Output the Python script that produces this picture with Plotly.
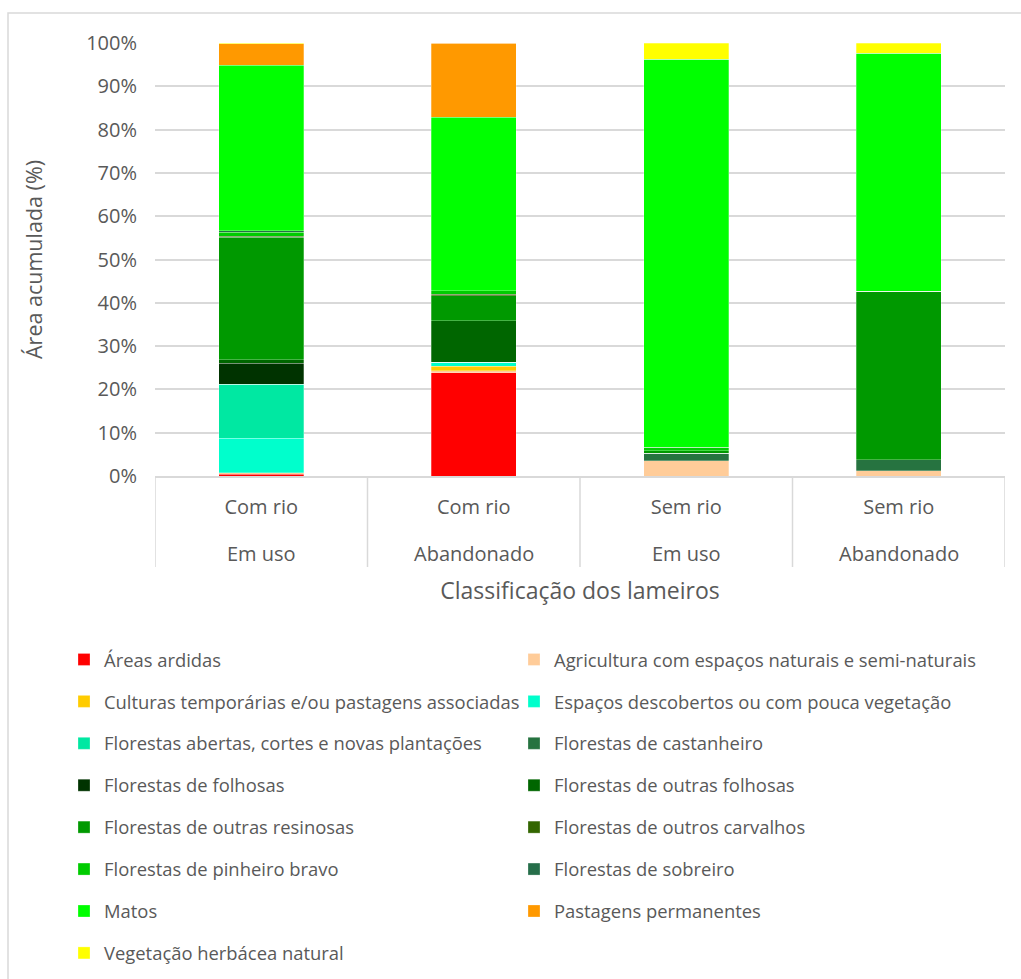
import plotly.graph_objects as go

# Categories (two label levels)
rio = ["Com rio", "Com rio", "Sem rio", "Sem rio"]
estado = ["Em uso", "Abandonado", "Em uso", "Abandonado"]

# Land-cover classes, bottom to top of each stack
classes = [
    "Áreas ardidas",
    "Agricultura com espaços naturais e semi-naturais",
    "Culturas temporárias e/ou pastagens associadas",
    "Espaços descobertos ou com pouca vegetação",
    "Florestas abertas, cortes e novas plantações",
    "Florestas de castanheiro",
    "Florestas de folhosas",
    "Florestas de outras folhosas",
    "Florestas de outras resinosas",
    "Florestas de outros carvalhos",
    "Florestas de pinheiro bravo",
    "Florestas de sobreiro",
    "Matos",
    "Pastagens permanentes",
    "Vegetação herbácea natural",
]

# Share of area (%) per class, one value per category
areas_ardidas = [0.4, 23.8, 0.0, 0.0]
agricultura = [0.4, 0.5, 3.5, 1.2]
culturas_temporarias = [0.0, 1.1, 0.0, 0.0]
espacos_descobertos = [7.9, 0.7, 0.0, 0.0]
florestas_abertas = [12.5, 0.2, 0.0, 0.0]
castanheiro = [0.0, 0.0, 1.7, 2.6]
folhosas = [4.8, 0.0, 0.0, 0.0]
outras_folhosas = [0.9, 9.5, 0.0, 0.0]
outras_resinosas = [28.2, 5.8, 0.6, 38.9]
outros_carvalhos = [0.3, 0.4, 0.0, 0.0]
pinheiro_bravo = [0.9, 0.8, 0.8, 0.0]
sobreiro = [0.3, 0.0, 0.0, 0.0]
matos = [38.3, 40.0, 89.6, 54.9]
pastagens = [4.9, 17.2, 0.0, 0.0]
vegetacao_herbacea = [0.1, 0.0, 3.8, 2.4]

values = [
    areas_ardidas, agricultura, culturas_temporarias, espacos_descobertos,
    florestas_abertas, castanheiro, folhosas, outras_folhosas,
    outras_resinosas, outros_carvalhos, pinheiro_bravo, sobreiro,
    matos, pastagens, vegetacao_herbacea,
]

colors = [
    "#FF0000", "#FFCC99", "#FFCC00", "#00FFCC", "#00E8A2",
    "#267340", "#003300", "#006600", "#009900", "#336600",
    "#00CC00", "#266E4A", "#00FF00", "#FF9900", "#FFFF00",
]

FONT = "Open Sans"
TXT = "#595959"
GRID = "#D9D9D9"

cats = [f"{r} | {e}" for r, e in zip(rio, estado)]

fig = go.Figure()
for i, (name, vals, col) in enumerate(zip(classes, values, colors)):
    fig.add_trace(go.Bar(
        x=cats, y=vals, name=name,
        marker=dict(color=col, line=dict(color="rgba(255,255,255,0.45)", width=0.6)),
        legend="legend" if i % 2 == 0 else "legend2",
        legendgroup=name,
    ))

# Plot-area geometry (pixels) used to place decorations in paper units
W, H = 1021, 979
L, R, T, B = 155, 16, 43, 503
pw, ph = W - L - R, H - T - B


def px_x(x):
    return (x - L) / pw


def px_y(y):
    return (H - B - y) / ph


shapes = []
# Category dividers extending through both label rows
for k in range(len(cats) + 1):
    shapes.append(dict(type="line", xref="x", yref="paper",
                       x0=k - 0.5, x1=k - 0.5, y0=0, y1=px_y(567),
                       line=dict(color=GRID, width=1.5)))
# Chart frame
shapes.append(dict(type="rect", xref="paper", yref="paper",
                   x0=px_x(8), x1=px_x(1040), y0=px_y(1000), y1=px_y(13),
                   line=dict(color=GRID, width=1.5), layer="below"))

annotations = []
for c, e in zip(cats, estado):
    annotations.append(dict(x=c, y=px_y(553), xref="x", yref="paper",
                            text=e, showarrow=False, yanchor="middle",
                            font=dict(family=FONT, size=20, color=TXT)))

legend_common = dict(
    orientation="v", traceorder="grouped", tracegroupgap=15,
    font=dict(family=FONT, size=18.4, color=TXT),
    bgcolor="rgba(0,0,0,0)", yanchor="top", xanchor="left",
    itemclick=False, itemdoubleclick=False,
)

fig.update_layout(
    width=W, height=H,
    margin=dict(l=L, r=R, t=T, b=B, autoexpand=False),
    barmode="stack", bargap=0.6,
    paper_bgcolor="white", plot_bgcolor="white",
    font=dict(family=FONT, color=TXT),
    showlegend=True,
    legend=dict(x=px_x(64), y=px_y(641), **legend_common),
    legend2=dict(x=px_x(514), y=px_y(641), **legend_common),
    shapes=shapes,
    annotations=annotations,
    xaxis=dict(
        type="category", range=[-0.5, len(cats) - 0.5],
        tickvals=cats, ticktext=rio, ticks="", ticklabelstandoff=12,
        tickfont=dict(family=FONT, size=20, color=TXT),
        showline=True, linecolor=GRID, linewidth=1.5,
        showgrid=False, automargin=False,
        title=dict(text="Classificação dos lameiros", standoff=64,
                   font=dict(family=FONT, size=23, color=TXT)),
    ),
    yaxis=dict(
        range=[0, 100], dtick=10, ticksuffix="%",
        tickfont=dict(family=FONT, size=20, color=TXT),
        ticks="", ticklabelstandoff=17,
        showgrid=True, gridcolor=GRID, gridwidth=1.5,
        zeroline=False, showline=False, automargin=False,
        title=dict(text="Área acumulada (%)", standoff=37,
                   font=dict(family=FONT, size=21.5, color=TXT)),
    ),
)

fig.write_html("out.html")
